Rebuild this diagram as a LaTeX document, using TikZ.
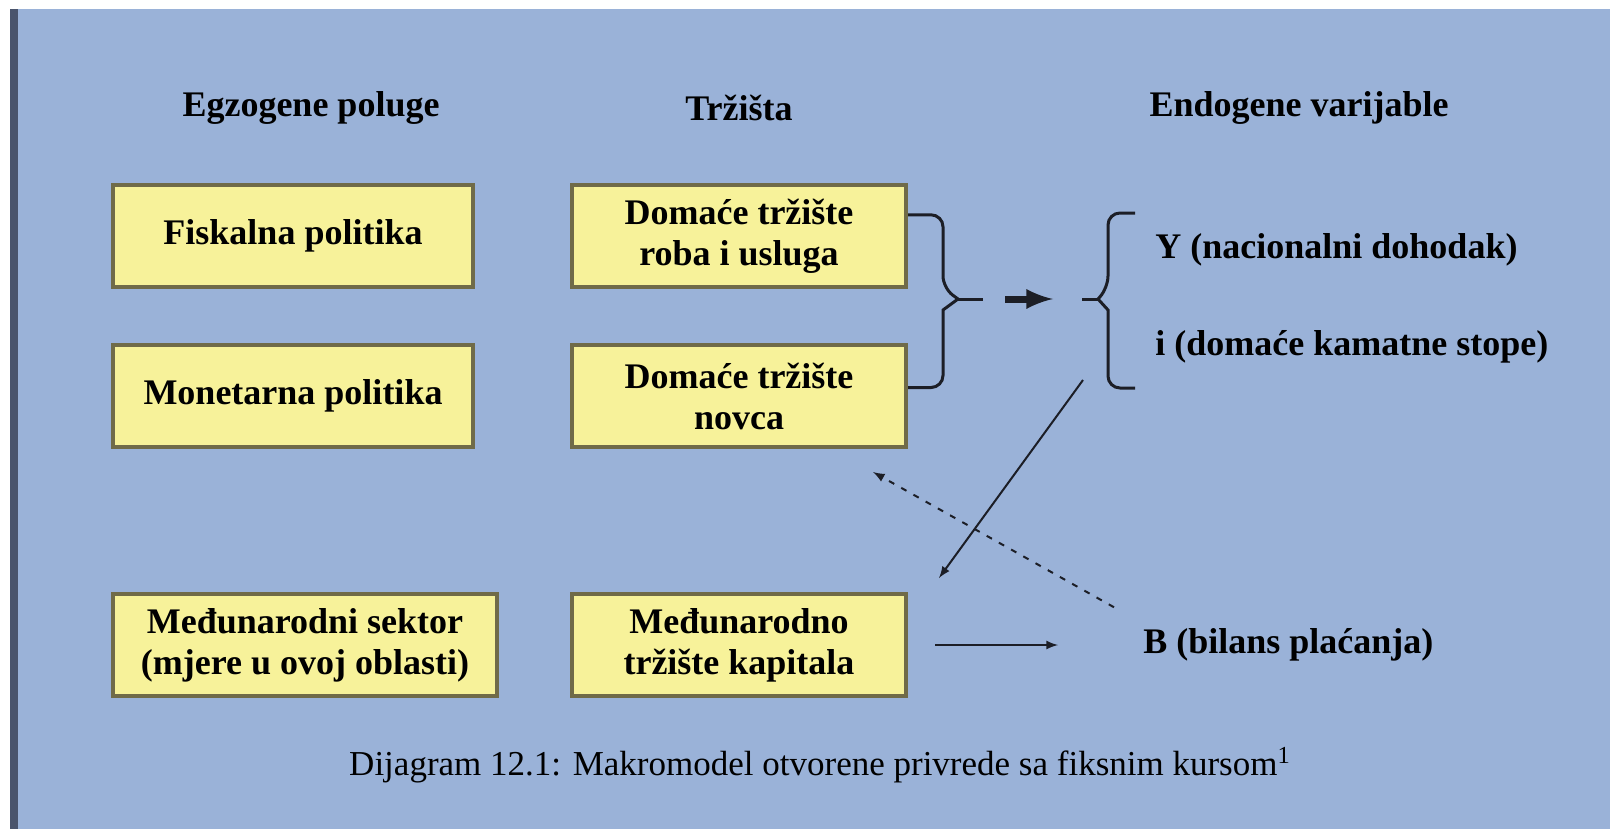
\documentclass[tikz,border=0pt]{standalone}
\usepackage{fontspec}
\setmainfont{Liberation Serif}
\usetikzlibrary{positioning,arrows,calc}

\definecolor{bgblue}{RGB}{154,178,216}
\definecolor{boxfill}{RGB}{247,242,154}
\definecolor{boxline}{RGB}{112,107,72}
\definecolor{barcol}{RGB}{74,84,108}
\definecolor{ink}{RGB}{28,30,38}

\tikzset{
  box/.style={draw=boxline,line width=2pt,fill=boxfill,align=center,inner sep=0pt,
    minimum height=51pt,font=\fontsize{18}{20.5}\selectfont\bfseries},
  lbl/.style={inner sep=0pt,font=\fontsize{18}{20.5}\selectfont\bfseries},
  brace/.style={draw=ink,line width=1.5pt},
  conn/.style={draw=ink,line width=1pt,-latex}
}

\begin{document}
\begin{tikzpicture}[x=0.5pt,y=-0.5pt]
\useasboundingbox (0,0) rectangle (1610,829);
\fill[white] (0,0) rectangle (1610,829);
\fill[bgblue] (10,9) rectangle (1610,829);
\fill[barcol] (10,9) rectangle (18,829);

% column heads
\node[lbl] (hexo) at (311,108) {Egzogene poluge};
\node[lbl] (htrz) at (739,108) {Tržišta};
\node[lbl] (hendo) at (1299,108) {Endogene varijable};

% boxes
\node[box,minimum width=180pt] (fisk) at (293,236) {Fiskalna politika};
\node[box,minimum width=180pt] (mon) at (293,396) {Monetarna politika};
\node[box,minimum width=192pt] (sektor) at (305,645) {Međunarodni sektor\\(mjere u ovoj oblasti)};
\node[box,minimum width=167pt] (roba) at (739,236) {Domaće tržište\\roba i usluga};
\node[box,minimum width=167pt] (novac) at (739,396) {Domaće tržište\\novca};
\node[box,minimum width=167pt] (kapital) at (739,645) {Međunarodno\\tržište kapitala};

% endogenous variables
\node[lbl,anchor=west] (dohodak) at (1155,250) {Y (nacionalni dohodak)};
\node[lbl,anchor=west] (kamata) at (1155,347) {i (domaće kamatne stope)};
\node[lbl,anchor=west] (bilans) at (1143,645) {B (bilans plaćanja)};

% braces
\coordinate (rb1) at ($(roba.north east)!0.3!(roba.south east)$);
\coordinate (rb2) at ($(novac.north east)!0.42!(novac.south east)$);
\coordinate (rtip) at (958,299);
\coordinate (lb1) at (1135,213);
\coordinate (lb2) at (1135,388);
\coordinate (ltip) at (1098,299);
\draw[brace] (rb1) [rounded corners=6pt] -| (943,288) [sharp corners] -- (rtip) -- (943,310) [rounded corners=6pt] |- (rb2);
\draw[brace] (rtip) -- ++(25,0);
\draw[brace] (lb1) [rounded corners=6pt] -| (1108,288) [sharp corners] -- (ltip) -- (1108,310) [rounded corners=6pt] |- (lb2);
\draw[brace] (ltip) -- ++(-16,0);
\draw[draw=ink,line width=3.5pt,-latex] ($(rtip)+(47,0)$) -- ($(ltip)+(-45,0)$);

% feedback arrows
\coordinate (ys) at (1083,380);
\draw[conn] (ys) -- ($(kapital.north east)+(31,-14)$);
\draw[conn,dash pattern=on 3pt off 4pt] ($(bilans.north west)+(-29,-21)$) -- ($(novac.south east)+(-35,23)$);
\draw[conn,shorten <=13.5pt,shorten >=42.5pt] (kapital) -- (bilans);

% caption
\node[inner sep=0pt,font=\fontsize{17.5}{20}\selectfont] (caption) at (820,765) {Dijagram 12.1: Makromodel otvorene privrede sa fiksnim kursom\textsuperscript{1}};

\end{tikzpicture}
\end{document}
